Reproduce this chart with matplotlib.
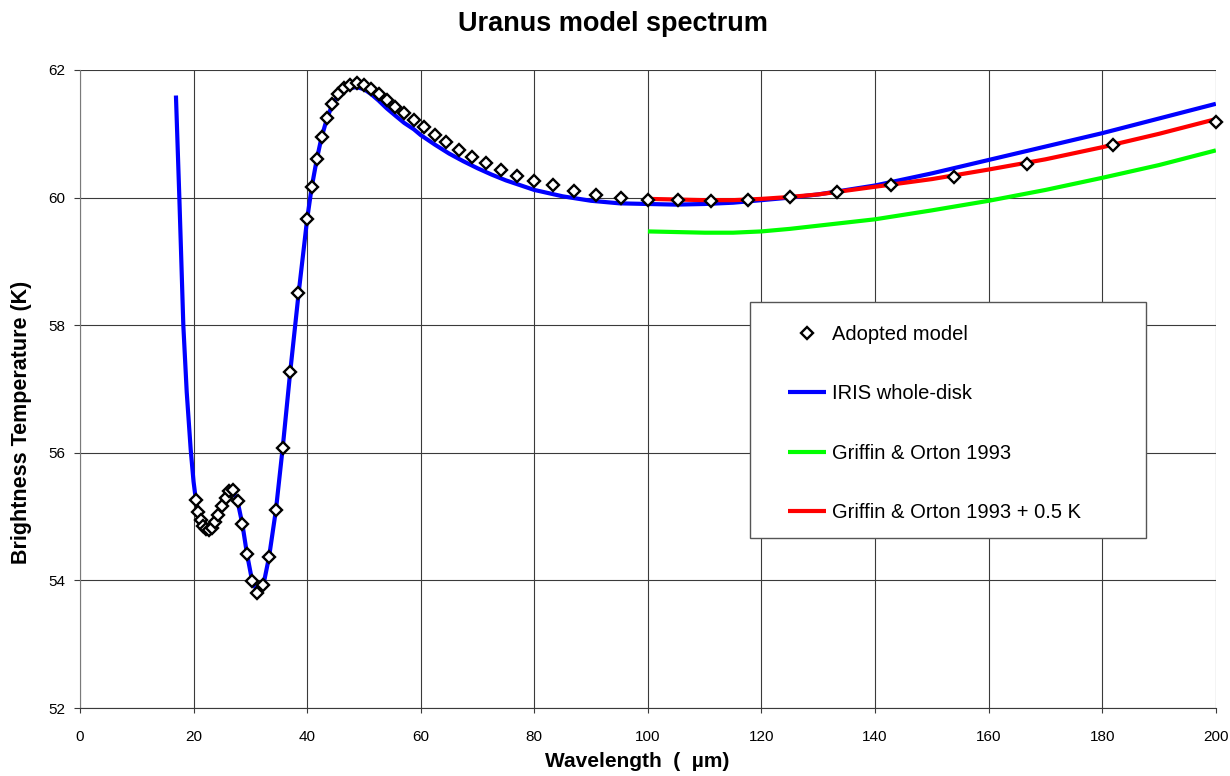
import matplotlib
matplotlib.use("Agg")
import matplotlib.pyplot as plt
from matplotlib.patches import Rectangle
import numpy as np

plt.rcParams["font.family"] = ["Liberation Sans", "DejaVu Sans"]

# adopted model, sampled in wavenumber (cm^-1)
model_wavenumber = [
    490, 480, 470, 460, 450, 440, 430, 420, 410, 400, 390, 380, 370, 360,
    350, 340, 330, 320, 310, 300, 290, 280, 270, 260,
    250, 245, 240, 235, 230, 225, 220, 215, 210, 205, 200, 195, 190, 185,
    180, 175, 170, 165, 160, 155, 150, 145, 140, 135, 130, 125, 120, 115,
    110, 105, 100, 95, 90, 85, 80, 75, 70, 65, 60, 55, 50,
]
model_tb = [
    55.26, 55.07, 54.94, 54.85, 54.80, 54.79, 54.82, 54.91, 55.03, 55.16,
    55.29, 55.40, 55.42, 55.24, 54.88, 54.41, 53.99, 53.80, 53.93, 54.37,
    55.10, 56.08, 57.26, 58.51,
    59.66, 60.16, 60.60, 60.95, 61.24, 61.46, 61.62, 61.71, 61.77, 61.79,
    61.76, 61.70, 61.63, 61.53, 61.42, 61.32, 61.21, 61.10, 60.98, 60.87,
    60.75, 60.64, 60.54, 60.43, 60.34, 60.26, 60.19, 60.11, 60.04, 60.00,
    59.97, 59.96, 59.95, 59.97, 60.01, 60.08, 60.19, 60.33, 60.53, 60.82,
    61.19,
]

# IRIS whole-disk spectrum (wavelength in um)
iris_wl = [
    16.9, 17.2, 17.5, 17.8, 18.2, 18.8, 19.5, 20.0, 20.4, 20.8, 21.3, 21.7,
    22.2, 22.7, 23.3, 23.8, 24.4, 25.0, 25.6, 26.3, 27.0, 27.8, 28.6, 29.4,
    30.3, 31.25, 32.3, 33.3, 34.5, 35.7, 37.0, 38.5, 40.0, 40.8, 41.7, 42.55,
    43.5, 44.4, 45.5, 46.5, 47.6, 48.8, 50.0, 51.3, 52.6, 54.0, 55.6, 57.1,
    58.8, 60.0, 62.5, 65.0, 67.5, 70.0, 72.5, 75.0, 80.0, 85.0, 90.0, 95.0,
    100, 105, 110, 115, 120, 125, 130, 140, 150, 160, 170, 180, 190, 200,
]
iris_tb = [
    61.60, 60.80, 60.00, 59.15, 58.00, 56.95, 56.05, 55.55, 55.27, 55.08,
    54.95, 54.85, 54.79, 54.78, 54.81, 54.90, 55.03, 55.17, 55.30, 55.40,
    55.40, 55.22, 54.88, 54.42, 54.00, 53.82, 53.93, 54.37, 55.10, 56.08,
    57.25, 58.50, 59.66, 60.16, 60.60, 60.95, 61.24, 61.45, 61.60, 61.68,
    61.72, 61.73, 61.70, 61.62, 61.52, 61.40, 61.28, 61.17, 61.07, 60.98,
    60.83, 60.69, 60.57, 60.46, 60.36, 60.27, 60.12, 60.02, 59.95, 59.91,
    59.90, 59.89, 59.90, 59.92, 59.96, 60.00, 60.05, 60.19, 60.38, 60.59,
    60.80, 61.01, 61.24, 61.47,
]

# Griffin & Orton 1993, and the same shifted by +0.5 K
go_wl = [100, 105, 110, 115, 120, 125, 130, 140, 150, 160, 170, 180, 190, 200]
go_tb = [59.47, 59.46, 59.45, 59.45, 59.47, 59.51, 59.56, 59.66, 59.80,
         59.95, 60.12, 60.31, 60.51, 60.74]
go_plus_tb = [59.98, 59.97, 59.96, 59.96, 59.98, 60.01, 60.05, 60.17, 60.29,
              60.44, 60.60, 60.79, 61.00, 61.23]

model_wl = 1.0e4 / np.array(model_wavenumber)

fig = plt.figure(figsize=(12.3, 7.76), dpi=100)
ax = fig.add_axes([0.065, 0.0876, 0.9235, 0.8222])

ax.plot(iris_wl, iris_tb, color="#0000ff", lw=3.0, label="IRIS whole-disk",
        solid_capstyle="butt", zorder=3)
ax.plot(go_wl, go_tb, color="#00ff00", lw=3.0, label="Griffin & Orton 1993",
        solid_capstyle="butt", zorder=3)
ax.plot(go_wl, go_plus_tb, color="#ff0000", lw=3.0,
        label="Griffin & Orton 1993 + 0.5 K", solid_capstyle="butt", zorder=3)
ax.plot(model_wl, model_tb, linestyle="none", marker="D", ms=6.5,
        mfc="white", mec="black", mew=1.7, label="Adopted model", zorder=4,
        clip_on=False)

ax.set_xlim(0, 200)
ax.set_ylim(52, 62)
ax.set_xticks(np.arange(0, 201, 20))
ax.set_yticks(np.arange(52, 63, 2))
ax.grid(True, color="#3a3a3a", lw=0.8)
ax.set_axisbelow(True)

for side in ("top", "right"):
    ax.spines[side].set_visible(False)
ax.spines["left"].set_color("#7a7a7a")
ax.spines["bottom"].set_color("#3a3a3a")
ax.tick_params(axis="y", direction="out", length=4.5, width=0.8,
               color="#3a3a3a", pad=6, labelsize=11)
ax.tick_params(axis="x", direction="out", length=3.8, width=0.8,
               color="#3a3a3a", pad=12, labelsize=11)

ax.set_xlabel("Wavelength  (  \u00b5m)", fontsize=15, fontweight="bold")
ax.set_ylabel("Brightness Temperature (K)", fontsize=15.5, fontweight="bold")
ax.xaxis.set_label_coords(0.491, -0.069)
ax.yaxis.set_label_coords(-0.042, 0.4475)

fig.suptitle("Uranus model spectrum", x=0.498, y=0.969, va="center",
             fontsize=19.5, fontweight="bold")

# legend box
ax.add_patch(Rectangle((0.5898, 0.266), 0.349, 0.370, transform=ax.transAxes,
                       facecolor="white", edgecolor="#555555", lw=1.0,
                       zorder=5))
handles, labels = ax.get_legend_handles_labels()
order = [3, 0, 1, 2]
leg = ax.legend([handles[i] for i in order], [labels[i] for i in order],
                loc="upper left", bbox_to_anchor=(0.6232, 0.600),
                frameon=False, fontsize=14.5, borderpad=0, labelspacing=2.0,
                handlelength=1.9, handletextpad=0.3, borderaxespad=0)
leg.set_zorder(6)

fig.savefig("out.png", dpi=100)
